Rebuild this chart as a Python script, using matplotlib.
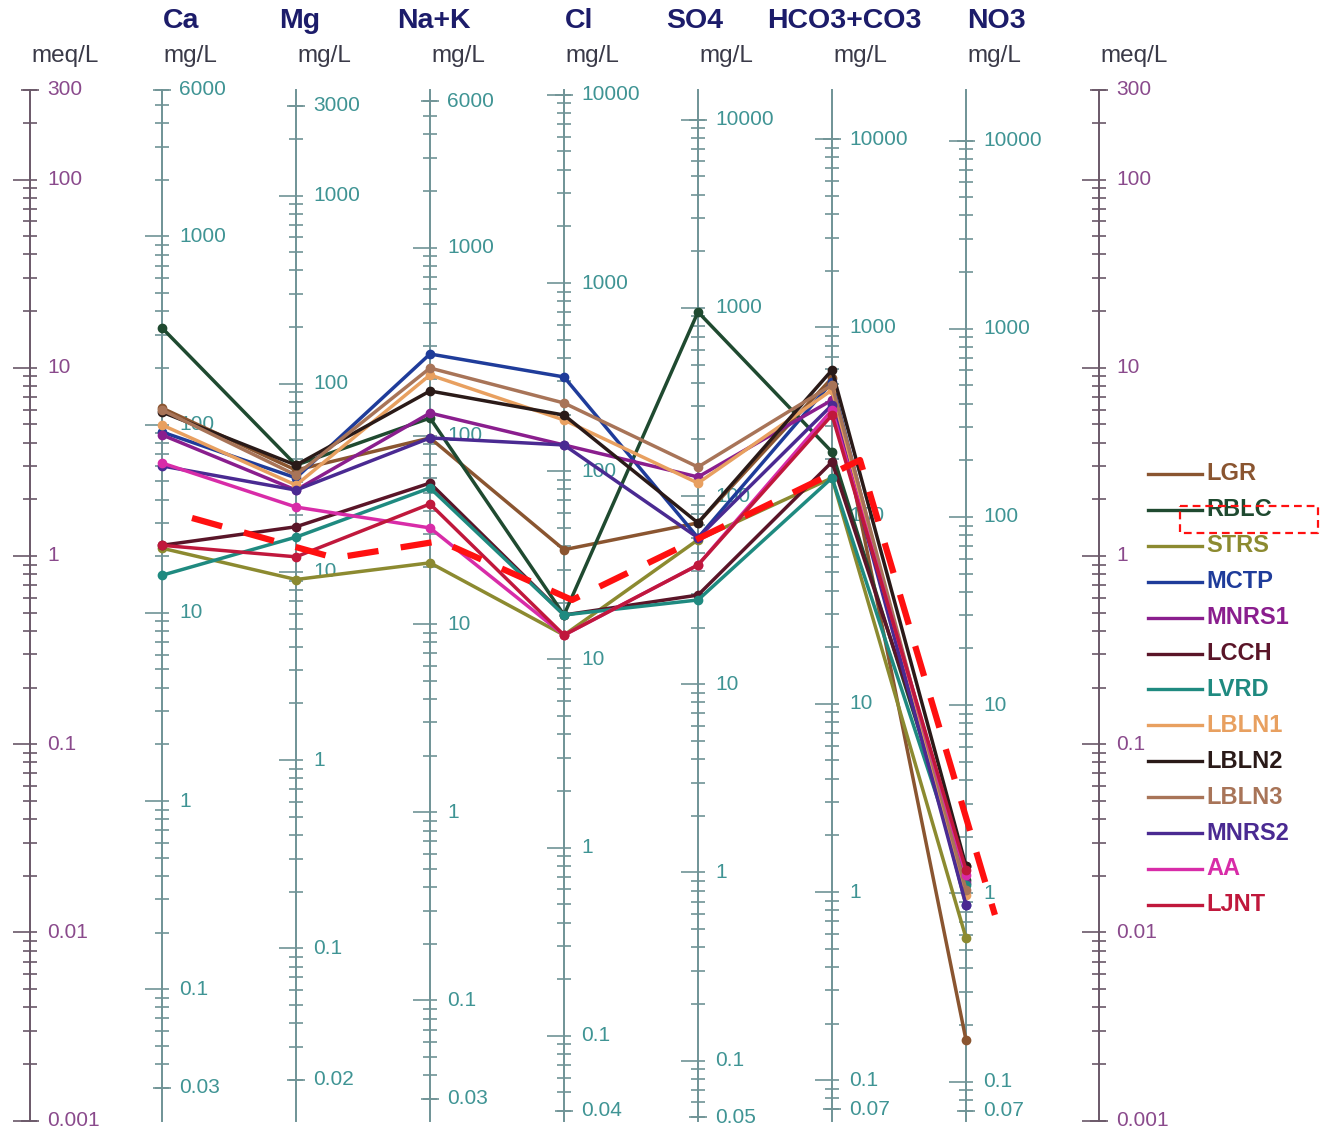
import numpy as np
import matplotlib
matplotlib.use("Agg")
import matplotlib.pyplot as plt
from matplotlib.collections import LineCollection
from matplotlib.transforms import blended_transform_factory

plt.rcParams['font.family'] = ['Liberation Sans', 'DejaVu Sans']

# ---------------- data ----------------
params = ["Ca", "Mg", "Na+K", "Cl", "SO4", "HCO3+CO3", "NO3"]
eq_weights = [20.04, 12.15, 23.0, 35.45, 48.03, 61.02, 62.0]
mg_min = [0.03, 0.02, 0.03, 0.04, 0.05, 0.07, 0.07]
mg_max = [6000, 3000, 6000, 10000, 10000, 10000, 10000]
mg_labels = [
    ["6000", "1000", "100", "10", "1", "0.1", "0.03"],
    ["3000", "1000", "100", "10", "1", "0.1", "0.02"],
    ["6000", "1000", "100", "10", "1", "0.1", "0.03"],
    ["10000", "1000", "100", "10", "1", "0.1", "0.04"],
    ["10000", "1000", "100", "10", "1", "0.1", "0.05"],
    ["10000", "1000", "100", "10", "1", "0.1", "0.07"],
    ["10000", "1000", "100", "10", "1", "0.1", "0.07"],
]
meq_labels = ["300", "100", "10", "1", "0.1", "0.01", "0.001"]

samples = ["LGR", "RBLC", "STRS", "MCTP", "MNRS1", "LCCH", "LVRD",
           "LBLN1", "LBLN2", "LBLN3", "MNRS2", "AA", "LJNT"]
sample_colors = ["#8a5530", "#1f4a30", "#8c8a30", "#1f3c9a", "#8a1e8e",
                 "#5a1528", "#1f8a80", "#e8a060", "#2a1a18", "#a87458",
                 "#4a2a92", "#d82ca8", "#c0183c"]

# meq/L values: Ca, Mg, Na+K, Cl, SO4, HCO3+CO3, NO3
LGR   = [6.11, 2.86, 4.24, 1.08, 1.50, 8.83, 0.00268]
RBLC  = [16.3, 3.04, 5.41, 0.486, 19.8, 3.57, 0.0190]
STRS  = [1.10, 0.75, 0.92, 0.380, 1.22, 2.60, 0.00934]
MCTP  = [4.56, 2.60, 11.84, 8.94, 1.25, 8.40, 0.0140]
MNRS1 = [4.40, 2.24, 5.75, 3.89, 2.63, 6.74, 0.0183]
LCCH  = [1.14, 1.43, 2.44, 0.486, 0.62, 3.16, 0.0225]
LVRD  = [0.79, 1.26, 2.30, 0.486, 0.584, 2.60, 0.0179]
LBLN1 = [4.97, 2.38, 9.16, 5.28, 2.44, 7.62, 0.0158]
LBLN2 = [5.82, 3.04, 7.53, 5.61, 1.50, 9.73, 0.0225]
LBLN3 = [5.97, 2.69, 9.97, 6.50, 2.97, 8.10, 0.0168]
MNRS2 = [3.01, 2.24, 4.24, 3.89, 1.25, 6.34, 0.0140]
AA    = [3.12, 1.82, 1.41, 0.380, 0.896, 5.97, 0.0202]
LJNT  = [1.14, 0.99, 1.89, 0.380, 0.896, 5.61, 0.0215]
sample_values = [LGR, RBLC, STRS, MCTP, MNRS1, LCCH, LVRD,
                 LBLN1, LBLN2, LBLN3, MNRS2, AA, LJNT]

# red dashed annotation (x in column index units, y in meq/L)
annot_x = [1.224, 2.291, 3.075, 4.060, 6.209, 7.216]
annot_y = [1.592, 0.976, 1.201, 0.584, 3.236, 0.01238]

# ---------------- layout ----------------
W, H = 1327, 1133
fig = plt.figure(figsize=(W / 100, H / 100), dpi=100)
ax = fig.add_axes([0, 0, 1, 1])
ax.set_yscale("log")
PX = 134.0  # pixels per column unit
ax.set_xlim((0 - 162) / PX + 1, (W - 162) / PX + 1)
ax.set_ylim(10 ** ((556 - H) / 188.2), 10 ** (556 / 188.2))
ax.axis("off")
bt = blended_transform_factory(ax.transData, ax.transAxes)

axis_x = [1, 2, 3, 4, 5, 6, 7]
meq_left_x = (30 - 162) / PX + 1
meq_right_x = (1099 - 162) / PX + 1
meq_top, meq_bot = 300, 0.001

mg_line_col = "#6f9396"
mg_lab_col = "#3f9494"
meq_line_col = "#6a5868"
meq_lab_col = "#8a4a8c"
tick_min = 7 / PX
tick_maj_l = 17 / PX
tick_maj_r = 7 / PX


def ticks_for(x, vmin, vmax, scale, col):
    segs = []
    kmin = int(np.floor(np.log10(vmin))) - 1
    kmax = int(np.ceil(np.log10(vmax))) + 1
    for k in range(kmin, kmax + 1):
        for m in range(1, 10):
            v = m * 10.0 ** k
            if v < vmin * 0.999 or v > vmax * 1.001:
                continue
            y = v / scale
            if m == 1:
                segs.append([(x - tick_maj_l, y), (x + tick_maj_r, y)])
            else:
                segs.append([(x - tick_min, y), (x + tick_min, y)])
    segs.append([(x - 9 / PX, vmin / scale), (x + 9 / PX, vmin / scale)])
    segs.append([(x - 9 / PX, vmax / scale), (x + 9 / PX, vmax / scale)])
    ax.add_collection(LineCollection(segs, colors=col, linewidths=1.2, zorder=2))


# meq axes
for mx in (meq_left_x, meq_right_x):
    ax.plot([mx, mx], [meq_bot, meq_top], color=meq_line_col, lw=1.4, zorder=2)
    ticks_for(mx, meq_bot, meq_top, 1.0, meq_line_col)
    for lab in meq_labels:
        ax.text(mx + 17 / PX, float(lab), lab, color=meq_lab_col, fontsize=15,
                ha="left", va="center", zorder=3)
    ax.text(mx + 35 / PX, 1 - 56 / H, "meq/L", transform=bt, color="#3a3a48",
            fontsize=17.5, ha="center", va="center")

# mg/L axes
for i, p in enumerate(params):
    x = axis_x[i]
    ew = eq_weights[i]
    ax.plot([x, x], [meq_bot, meq_top], color=mg_line_col, lw=1.4, zorder=2)
    ticks_for(x, mg_min[i], mg_max[i], ew, mg_line_col)
    for lab in mg_labels[i]:
        ax.text(x + 17 / PX, float(lab) / ew, lab, color=mg_lab_col, fontsize=15,
                ha="left", va="center", zorder=3)
    ax.text(x + 28 / PX, 1 - 56 / H, "mg/L", transform=bt, color="#3a3a48",
            fontsize=17.5, ha="center", va="center")

header_dx = [19, 4, 4, 15, -3, 12, 30]
for i, p in enumerate(params):
    ax.text(axis_x[i] + header_dx[i] / PX, 1 - 21 / H, p, transform=bt,
            color="#1c1c6a", fontsize=20.5, fontweight="bold", ha="center", va="center")

# sample lines
for name, vals, c in zip(samples, sample_values, sample_colors):
    ax.plot(axis_x, vals, color=c, lw=2.5, marker="o", markersize=6,
            markeredgewidth=1.0, zorder=4, solid_joinstyle="round")

# legend (manual)
for i, (name, c) in enumerate(zip(samples, sample_colors)):
    yf = 1 - (474 + 35.9 * i) / H
    ax.plot([1148 / W, 1202 / W], [yf, yf], transform=ax.transAxes, color=c,
            lw=2.4, zorder=5)
    ax.text(1206 / W, yf, name, transform=ax.transAxes, color=c, fontsize=17,
            fontweight="bold", ha="left", va="center", zorder=5)

# red dashed annotation
ax.plot(annot_x, annot_y, color="#ff1010", lw=4.5, dashes=(5, 3.6),
        zorder=6, solid_capstyle="butt", dash_capstyle="butt")
# dashed box around RBLC in the legend
bx0, bx1 = 1180 / W, 1318 / W
by0, by1 = 1 - 533 / H, 1 - 506 / H
ax.plot([bx0, bx1, bx1, bx0, bx0], [by1, by1, by0, by0, by1], transform=ax.transAxes,
        color="#ff1010", lw=1.6, dashes=(3.5, 2.2), zorder=6)

fig.savefig("out.png", dpi=100, facecolor="white")
